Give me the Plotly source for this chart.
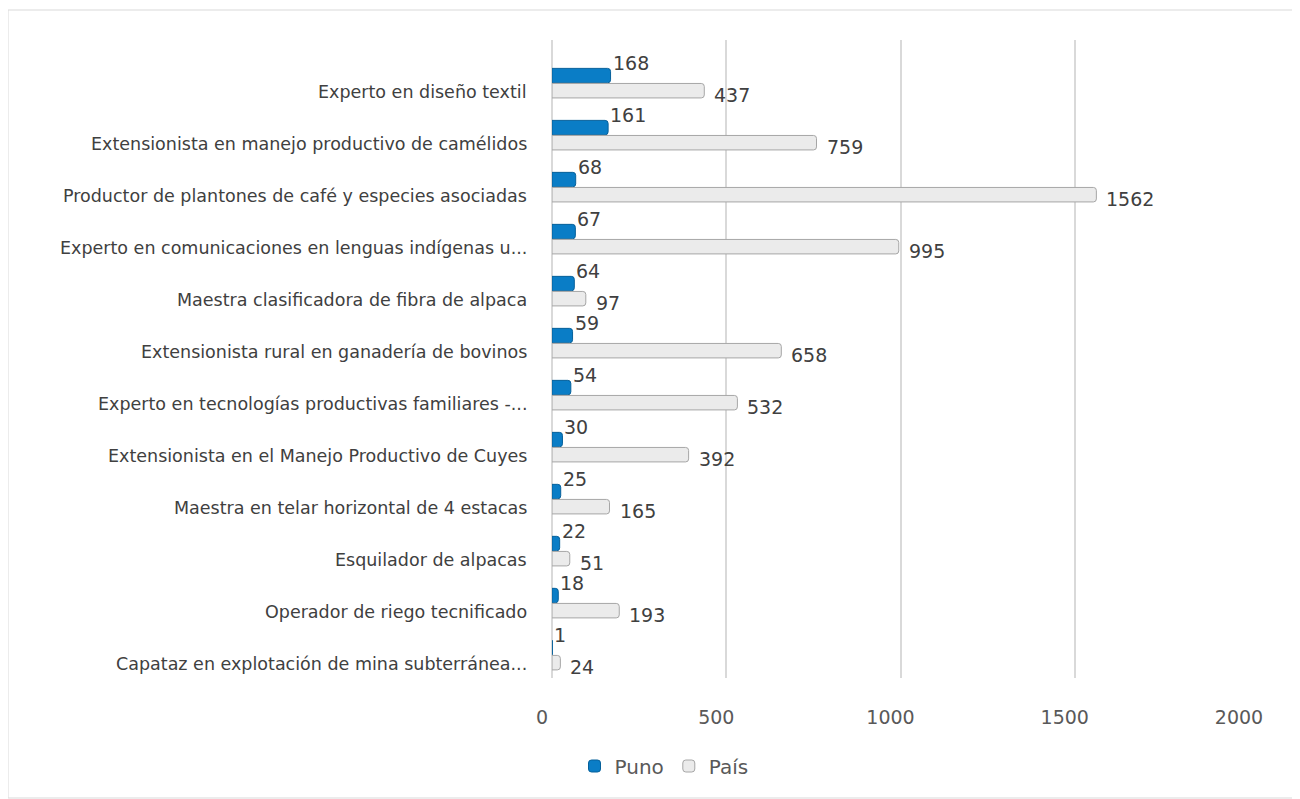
import plotly.graph_objects as go

categories = [
    "Experto en diseño textil",
    "Extensionista en manejo productivo de camélidos",
    "Productor de plantones de café y especies asociadas",
    "Experto en comunicaciones en lenguas indígenas u...",
    "Maestra clasificadora de fibra de alpaca",
    "Extensionista rural en ganadería de bovinos",
    "Experto en tecnologías productivas familiares -...",
    "Extensionista en el Manejo Productivo de Cuyes",
    "Maestra en telar horizontal de 4 estacas",
    "Esquilador de alpacas",
    "Operador de riego tecnificado",
    "Capataz en explotación de mina subterránea...",
]
puno = [168, 161, 68, 67, 64, 59, 54, 30, 25, 22, 18, 1]
pais = [437, 759, 1562, 995, 97, 658, 532, 392, 165, 51, 193, 24]
x_ticks = [0, 500, 1000, 1500, 2000]

FONT = "DejaVu Sans"
TXT = "#404040"

OFF = 8
W, H = 1300 - OFF, 799 - OFF
L = 552 - OFF
R = W - (1249 - OFF)
T = 40 - OFF
B = H - (678 - OFF)
PW = W - L - R
PH = H - T - B

fig = go.Figure()
fig.add_trace(go.Bar(
    name="Puno", y=categories, x=puno, orientation="h",
    marker=dict(color="#0a7dc6", line=dict(color="#06609a", width=1), cornerradius=3),
))
fig.add_trace(go.Bar(
    name="País", y=categories, x=pais, orientation="h",
    marker=dict(color="#ebebeb", line=dict(color="#a6a6a6", width=1), cornerradius=3),
))

annotations = []
for c, v in zip(categories, puno):
    annotations.append(dict(x=v, y=c, xref="x", yref="y", text=str(v), showarrow=False,
                            xanchor="left", yanchor="middle", xshift=0, yshift=20,
                            font=dict(family=FONT, size=19, color=TXT)))
for c, v in zip(categories, pais):
    annotations.append(dict(x=v, y=c, xref="x", yref="y", text=str(v), showarrow=False,
                            xanchor="left", yanchor="middle", xshift=8, yshift=-12,
                            font=dict(family=FONT, size=19, color=TXT)))
for c in categories:
    annotations.append(dict(x=0, y=c, xref="paper", yref="y", text=c, showarrow=False,
                            xanchor="right", yanchor="middle", xshift=-23, yshift=-9,
                            font=dict(family=FONT, size=17.5, color=TXT)))

fig.update_layout(
    width=W, height=H,
    margin=dict(l=L, r=R, t=T, b=B),
    paper_bgcolor="white", plot_bgcolor="white",
    barmode="group", bargap=0.42, bargroupgap=0.04,
    font=dict(family=FONT, color=TXT),
    annotations=annotations,
    showlegend=True,
    legend=dict(orientation="h", x=(664 - 552) / PW, xanchor="center",
                y=-(766 - 678) / PH, yanchor="middle",
                font=dict(family=FONT, size=20, color="#595959"), itemwidth=30,
                traceorder="normal"),
    shapes=[dict(type="rect", xref="paper", yref="paper",
                 x0=(8 - 552) / PW, x1=(1299 - 552) / PW,
                 y0=(678 - 798) / PH, y1=(678 - 10) / PH,
                 line=dict(color="#d9d9d9", width=1), fillcolor="rgba(0,0,0,0)", layer="below")],
)
fig.update_xaxes(range=[0, 2000], tickvals=x_ticks, ticktext=[str(t) for t in x_ticks],
                 showgrid=True, gridcolor="#d9d9d9", gridwidth=1.5,
                 zeroline=True, zerolinecolor="#d9d9d9", zerolinewidth=1.5,
                 showline=False, ticks="", ticklabelstandoff=26, ticklabelshift=-10,
                 tickfont=dict(family=FONT, size=19, color="#595959"))
fig.update_yaxes(type="category", categoryorder="array", categoryarray=categories,
                 autorange=False, range=[11.44, -0.83], showticklabels=False,
                 showgrid=False, zeroline=False, showline=False, ticks="")

fig.write_html("out.html")
